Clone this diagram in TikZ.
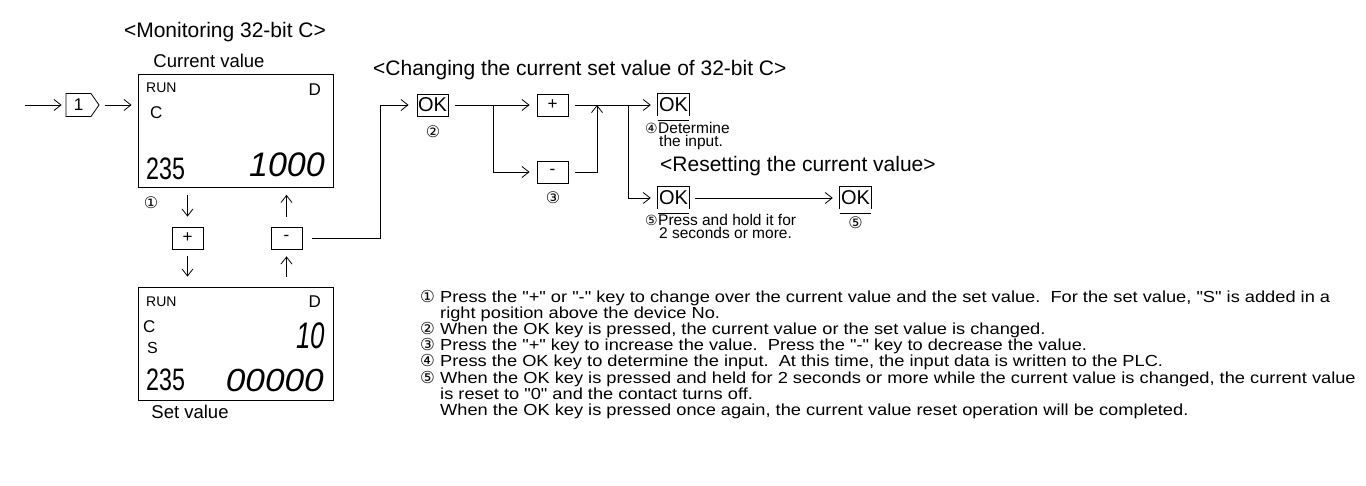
\documentclass[tikz,border=0pt]{standalone}
\usepackage{fontspec}
\setmainfont{Liberation Sans}[Ligatures=TeXOff]
\newfontfamily\notefont{Liberation Sans}[Ligatures=TeXOff,FakeStretch=1.14]
\newfontfamily\circfont{DejaVu Sans}
\usetikzlibrary{arrows.meta,shapes.symbols}
\newcommand{\cn}[1]{{\circfont #1}}
\begin{document}
\begin{tikzpicture}[x=1pt,y=-1pt,
 ln/.style={line width=0.8pt},
 arr/.style={ln,-{Straight Barb[length=7pt,width=11pt]}},
 keybox/.style={draw,line width=0.8pt,minimum width=31pt,minimum height=22pt,inner sep=0pt,font=\fontsize{17}{17}\selectfont},
 okbox/.style={keybox,font=\fontsize{20}{20}\selectfont},
 okopen/.style={minimum width=31pt,minimum height=22pt,inner sep=0pt,font=\fontsize{20}{20}\selectfont},
 lcd/.style={draw,line width=0.8pt,minimum width=195pt,minimum height=113pt,inner sep=0pt},
 ttl/.style={font=\fontsize{21}{21}\selectfont,inner sep=0pt},
 lbl/.style={font=\fontsize{18.5}{18.5}\selectfont,inner sep=0pt},
 circ/.style={font=\fontsize{16}{16}\selectfont\circfont,inner sep=0pt},
 smalltext/.style={font=\fontsize{15.5}{15.5}\selectfont,inner sep=0pt,anchor=base west},
 notetext/.style={font=\notefont\fontsize{16}{16}\selectfont,inner sep=0pt,anchor=base west},
 notecirc/.style={font=\circfont\fontsize{16.5}{16}\selectfont,inner sep=0pt,anchor=base west},
 lcdsmall/.style={font=\fontsize{14}{14}\selectfont,inner sep=0pt},
 lcdchar/.style={font=\fontsize{17}{17}\selectfont,inner sep=0pt},
 seg/.style={inner sep=0pt,font=\fontsize{34}{34}\selectfont\itshape},
]
\useasboundingbox (0,0) rectangle (1366,485);

% ---------- titles ----------
\node[ttl] (tmon) at (225,32) {<Monitoring 32-bit C>};
\node[lbl] (tcur) at (209,61) {Current value};
\node[lbl] (tset) at (190,412) {Set value};
\node[ttl,anchor=west] (tchg) at (373,70) {<Changing the current set value of 32-bit C>};
\node[ttl,anchor=west] (trst) at (660,166) {<Resetting the current value>};

% ---------- entry ----------
\coordinate (in0) at (25,105);
\node[draw,line width=0.8pt,signal,signal to=east,signal pointer angle=110,
      minimum height=23pt,minimum width=33pt,inner sep=0pt,
      font=\fontsize{17}{17}\selectfont] (k1) at (78.5,105) {1\hspace{6pt}};

% ---------- LCD 1 ----------
\node[lcd] (lcd1) at (235.5,131) {};
\node[lcdsmall,anchor=west] (run1) at (146,88) {RUN};
\node[lcdchar,anchor=east] (d1) at (321,90) {D};
\node[lcdchar,anchor=west] (c1) at (150,113) {C};
\node[seg,anchor=west,xscale=0.75,font=\fontsize{31}{31}\selectfont] (n1a) at (146,169) {235};
\node[seg,anchor=east] (n1b) at (325,165) {1000};

% ---------- LCD 2 ----------
\node[lcd] (lcd2) at (235.5,343.5) {};
\node[lcdsmall,anchor=west] (run2) at (146,302) {RUN};
\node[lcdchar,anchor=east] (d2) at (321,302) {D};
\node[lcdchar,anchor=west] (c2) at (143,327) {C};
\node[lcdchar,anchor=west,font=\fontsize{16}{16}\selectfont] (s2) at (147,348) {S};
\node[seg,anchor=east,xscale=0.7,font=\fontsize{37}{37}\selectfont\itshape] (n2a) at (325,336) {10};
\node[seg,anchor=west,xscale=0.75,font=\fontsize{31}{31}\selectfont] (n2b) at (146,380) {235};
\node[seg,anchor=east,xscale=1.1,font=\fontsize{32}{32}\selectfont\itshape] (n2c) at (324,380) {00000};

% ---------- +/- keys between LCDs ----------
\node[circ] (m1) at (151,203) {①};
\node[keybox] (plus1) at (187.5,238) {+};
\node[keybox] (minus1) at (286.5,238) {-};

% ---------- changing flow ----------
\node[okbox] (ok1) at (432.5,105) {OK};
\node[circ] (m2) at (433,132) {②};
\node[keybox] (plus2) at (552.5,105) {+};
\node[keybox] (minus2) at (552.5,172) {-};
\node[circ] (m3) at (553,198) {③};

\node[okopen] (ok2) at (673.5,105) {OK};
\draw[ln] (ok2.south west) -- (ok2.north west) -- (ok2.north east) -- (ok2.south east);
\draw[ln] ([yshift=-4pt]ok2.south west) -- ([yshift=-4pt]ok2.south east);
\node[smalltext,font=\fontsize{14}{14}\selectfont\circfont] (t4c) at (645,133.5) {④};
\node[smalltext] (t4a) at (658,133.5) {Determine};
\node[smalltext] (t4b) at (659,146.5) {the input.};

\node[okopen] (ok3) at (673.5,198) {OK};
\draw[ln] (ok3.south west) -- (ok3.north west) -- (ok3.north east) -- (ok3.south east);
\draw[ln] ([yshift=-4pt]ok3.south west) -- ([yshift=-4pt]ok3.south east);
\node[smalltext,font=\fontsize{14}{14}\selectfont\circfont] (t5c) at (645,225.5) {⑤};
\node[smalltext] (t5a) at (658,225.5) {Press and hold it for};
\node[smalltext] (t5b) at (659,238.5) {2 seconds or more.};

\node[okopen] (ok4) at (855.5,198) {OK};
\draw[ln] (ok4.south west) -- (ok4.north west) -- (ok4.north east) -- (ok4.south east);
\draw[ln] ([yshift=-4pt]ok4.south west) -- ([yshift=-4pt]ok4.south east);
\node[circ] (m5) at (855.5,223) {⑤};

% ---------- connectors ----------
\draw[arr,shorten >=4pt] (in0) -- (k1.west);
\draw[arr,shorten <=5pt,shorten >=6pt] (k1.east) -- (k1.east -| lcd1.west);

\draw[arr] ([yshift=-7pt]lcd1.south -| plus1.north) -- ([yshift=10pt]plus1.north);
\draw[arr] ([yshift=-7pt]plus1.south) -- ([yshift=10pt]lcd2.north -| plus1.south);
\draw[arr] ([yshift=10pt]lcd2.north -| minus1.south) -- ([yshift=-7pt]minus1.south);
\draw[arr] ([yshift=10pt]minus1.north) -- ([yshift=-7pt]lcd1.south -| minus1.north);

\coordinate (j1) at (380,105);
\draw[arr,shorten >=8pt] ([xshift=10pt]minus1.east) -| (j1) -- (ok1.west);
\draw[arr,shorten <=7pt,shorten >=7pt] (ok1.east) -- (plus2.west);
\coordinate (j2) at (493,105);
\draw[arr,shorten >=7pt] (j2) |- (minus2.west);
\draw[arr,shorten <=7pt,shorten >=7pt] (plus2.east) -- (ok2.west);
\coordinate (j3) at (597,105);
\draw[arr] ([xshift=7pt]minus2.east) -| (j3);
\coordinate (j4) at (628,105);
\draw[arr,shorten >=7pt] (j4) |- (ok3.west);
\draw[arr,shorten <=6pt,shorten >=7pt] (ok3.east) -- (ok4.west);

% ---------- notes ----------
\node[notecirc] (n1c) at (420,302.5) {①};
\node[notetext] (n1) at (440,302.5) {Press the "+" or "-" key to change over the current value and the set value.\ \ For the set value, "S" is added in a};
\node[notetext] (n1x) at (440,318.5) {right position above the device No.};
\node[notecirc] (n2c) at (420,334.5) {②};
\node[notetext] (n2) at (440,334.5) {When the OK key is pressed, the current value or the set value is changed.};
\node[notecirc] (n3c) at (420,350.5) {③};
\node[notetext] (n3) at (440,350.5) {Press the "+" key to increase the value.\ \ Press the "-" key to decrease the value.};
\node[notecirc] (n4c) at (420,366.5) {④};
\node[notetext] (n4) at (440,366.5) {Press the OK key to determine the input.\ \ At this time, the input data is written to the PLC.};
\node[notecirc] (n5c) at (420,383) {⑤};
\node[notetext] (n5) at (440,383) {When the OK key is pressed and held for 2 seconds or more while the current value is changed, the current value};
\node[notetext] (n5x) at (440,399) {is reset to "0" and the contact turns off.};
\node[notetext] (n5y) at (440,415) {When the OK key is pressed once again, the current value reset operation will be completed.};
\end{tikzpicture}
\end{document}
